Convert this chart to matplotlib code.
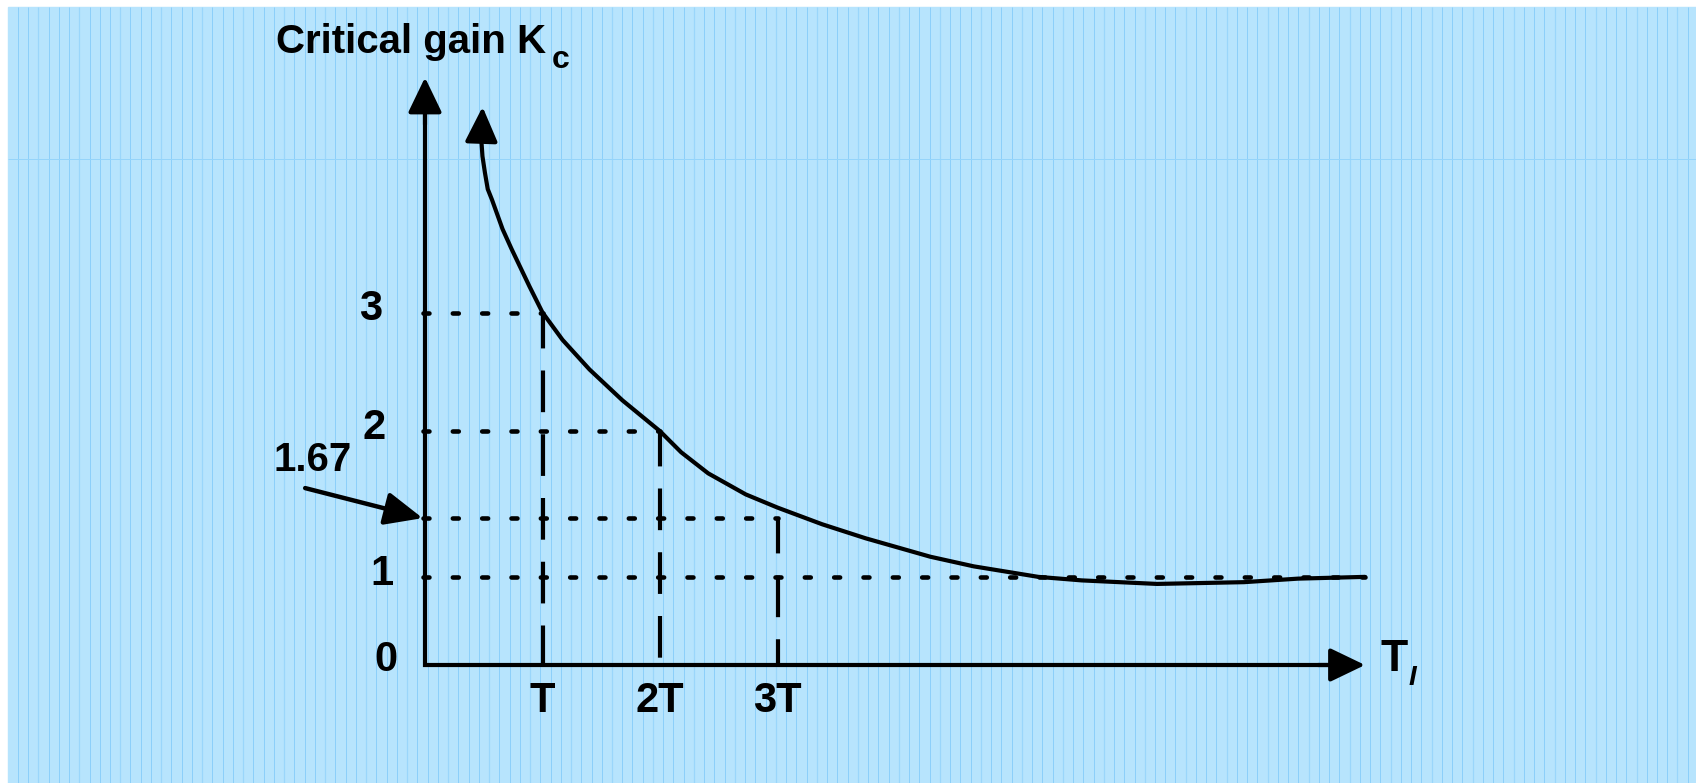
"""
    Critical gain Kc as a function of the integral time TI
"""
import numpy as np
import matplotlib
matplotlib.use('Agg')
import matplotlib.pyplot as plt
from matplotlib.patches import Rectangle

plt.rcParams['font.family'] = ['Liberation Sans', 'DejaVu Sans']
plt.rcParams['font.weight'] = 'bold'

# curve Kc(TI), TI in units of T
curve_ti = [0.48, 0.489, 0.51, 0.534, 0.57, 0.66, 0.737, 0.78, 0.89, 1.0, 1.17, 1.40,
            1.68, 2.0, 2.18, 2.41, 2.73, 3.0, 3.38, 3.75, 4.30, 4.67, 5.22, 5.59,
            6.23, 6.97, 7.43, 8.0]
curve_kc = [4.46, 4.33, 4.19, 4.05, 3.96, 3.71, 3.54, 3.45, 3.22, 3.0, 2.77, 2.52,
            2.26, 2.0, 1.92, 1.84, 1.76, 1.71, 1.60, 1.44, 1.23, 1.12, 1.0, 0.96,
            0.92, 0.94, 0.98, 1.0]
curve_tip = (0.49, 4.75)

# reference levels: (gain, TI where the dotted guide stops)
gain_levels = [3, 2, 1.67, 1]
gain_level_ends = [1, 2, 3, 8]
gain_labels = ['3', '2', '', '1']
marked_gain = 1.67

# dropped guides at multiples of T: (TI, gain at top)
ti_marks = [1, 2, 3]
ti_mark_tops = [3, 2, 1.67]
ti_labels = ['T', '2T', '3T']

x_axis_end = 8
y_axis_end = 5

# hand drawn axis: where each gain value sits (in units of T) on the vertical axis
knot_values = [-2, 0, 1, 1.67, 2, 3, 8]
knot_pos = [-2, 0, 0.75, 1.25, 1.99, 3.0, 8]

W, H = 1696, 783
PX = 117.5  # pixels per unit T


def forward(v):
    return np.interp(v, knot_values, knot_pos)


def inverse(p):
    return np.interp(p, knot_pos, knot_values)


def draw_background(fig):
    bg = fig.add_axes([0, 0, 1, 1])
    bg.set_xlim(0, W)
    bg.set_ylim(H, 0)
    bg.axis('off')
    bg.add_patch(Rectangle((8, 7), W - 8, H - 7, color='#b7e4fd', zorder=0))
    xs = np.floor(17.3 + 10.245 * np.arange(165)) + 0.5
    xs = xs[xs < W]
    solid = [x for i, x in enumerate(xs) if i % 4 != 2]
    dashed = [x for i, x in enumerate(xs) if i % 4 == 2]
    bg.vlines(solid, 7, H, color='#8ccffa', lw=0.72, zorder=1)
    bg.vlines(dashed, 7, H, color='#9ad6fb', lw=0.9, zorder=1)
    bg.hlines(158.5, 8, W, color='#95d4fa', lw=0.72, zorder=1)


def arrow(ax, start, end, lw, head_len, head_w):
    ax.annotate('', xy=end, xytext=start,
                arrowprops=dict(arrowstyle='-|>,head_length=%.1f,head_width=%.1f'
                                % (head_len * 0.72, head_w * 0.36),
                                lw=lw, color='black', shrinkA=0, shrinkB=0,
                                mutation_scale=1))


def draw_chart(fig):
    ax = fig.add_axes([0, 0, 1, 1])
    ax.patch.set_visible(False)
    ax.set_yscale('function', functions=(forward, inverse))
    ax.set_xlim(-425 / PX, (W - 425) / PX)
    ax.set_ylim(-(H - 665) / PX, 665 / PX)
    ax.axis('off')

    # dotted guides from the gain axis
    for k, x_end in zip(gain_levels, gain_level_ends):
        ax.plot([-0.02, x_end], [k, k], color='black', lw=3.3,
                linestyle=(0, (1.3, 5.1)), dash_capstyle='round')

    # dashed drops to the TI axis
    for t, top in zip(ti_marks, ti_mark_tops):
        ax.plot([t, t], [top, 0], color='black', lw=3,
                linestyle=(1.5, (10.0, 5.3)), dash_capstyle='butt')

    # axes
    ax.plot([0, 0, x_axis_end - 0.15], [y_axis_end - 0.15, 0, 0], color='black',
            lw=3, solid_joinstyle='miter', solid_capstyle='butt')
    arrow(ax, (0, y_axis_end - 0.4), (0, y_axis_end), 3, 30, 29)
    arrow(ax, (x_axis_end - 0.4, 0), (x_axis_end, 0), 3, 30, 29)

    # the curve
    ax.plot(curve_ti, curve_kc, color='black', lw=3, solid_joinstyle='round',
            solid_capstyle='round')
    arrow(ax, (curve_ti[0], curve_kc[0]), curve_tip, 3, 30, 28)

    # marked gain 1.67
    arrow(ax, (-1.02, 1.784), (-0.02, marked_gain), 3.2, 32, 28)
    ax.text(-0.96, 1.89, '%.2f' % marked_gain, fontsize=29, ha='center', va='center')

    # gain labels
    label_x = {'3': -0.46, '2': -0.43, '1': -0.37}
    for k, lab in zip(gain_levels, gain_labels):
        if lab:
            ax.text(label_x[lab], k + 0.03, lab, fontsize=30, ha='center', va='center')
    ax.text(-0.33, 0.06, '0', fontsize=30, ha='center', va='center')

    # TI labels
    for t, lab in zip(ti_marks, ti_labels):
        ax.text(t, -0.306, lab, fontsize=30, ha='center', va='center')

    # axis titles
    ax.text(-1.27, 5.209, 'Critical gain K', fontsize=29, ha='left', va='baseline')
    ax.text(1.08, 5.085, 'c', fontsize=23, ha='left', va='baseline')
    ax.text(8.13, 0.064, 'T', fontsize=32, ha='left', va='center')
    ax.text(8.37, -0.11, 'I', fontsize=20, ha='left', va='center', style='italic')


def main():
    fig = plt.figure(figsize=(W / 100, H / 100), dpi=100)
    fig.patch.set_facecolor('white')
    draw_background(fig)
    draw_chart(fig)
    fig.savefig('out.png', dpi=100, facecolor='white')


if __name__ == '__main__':
    main()
